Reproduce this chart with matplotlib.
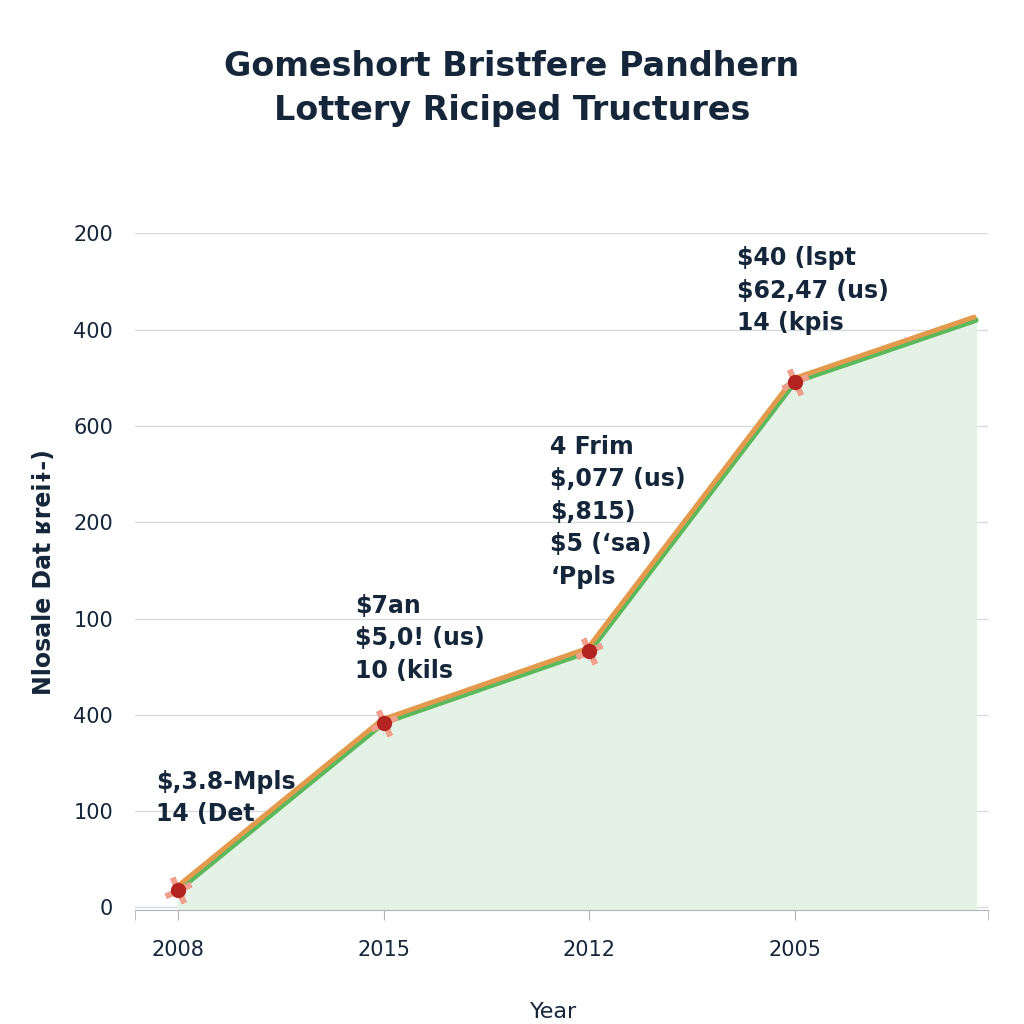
import matplotlib.pyplot as plt
import matplotlib.transforms as mtransforms

# x positions are just category slots, labels are as printed on the chart
years = ['2008', '2015', '2012', '2005']
x_pos = [0, 1, 2, 3]
# line values in grid-slot units (gridlines are evenly spaced, labels are not)
values = [0.18, 1.92, 2.66, 5.46]
end_x = 3.88
end_value = 6.10
ytick_labels = ['0', '100', '400', '100', '200', '600', '400', '200']

notes = [
    "$,3.8-Mpls\n14 (Det",
    "$7an\n$5,0! (us)\n10 (kils",
    "4 Frim\n$,077 (us)\n$,815)\n$5 (\u2018sa)\n\u2018Ppls",
    "$40 (lspt\n$62,47 (us)\n14 (kpis",
]
# where each note sits (x slot, top y slot)
note_pos = [(-0.11, 1.43), (0.86, 3.26), (1.81, 4.91), (2.72, 6.87)]

dark = '#16263a'
green = '#5cb85c'
orange = '#e39a4c'
fill = '#e4f1e5'

fig = plt.figure(figsize=(10.24, 10.24), dpi=100)
ax = fig.add_axes([0.132, 0.111, 0.833, 0.661])

xs = x_pos + [end_x]
ys = values + [end_value]

ax.fill_between(xs, ys, -0.03, color=fill, zorder=1)
ax.plot(xs, ys, color=green, lw=4, zorder=3, solid_capstyle='round')
shift = mtransforms.offset_copy(ax.transData, fig=fig, x=-1.2, y=2.2, units='points')
ax.plot(xs, ys, color=orange, lw=3.5, zorder=4, transform=shift, solid_capstyle='round')

ax.plot(x_pos, values, ls='none', marker=(4, 2, 25), ms=20, mew=4,
        color='#f0a08c', zorder=5)
ax.plot(x_pos, values, ls='none', marker='o', ms=10, color='#b3231f', zorder=6)

for (nx, ny), txt in zip(note_pos, notes):
    ax.text(nx, ny, txt, fontsize=17, color=dark, ha='left', va='top',
            linespacing=1.45, fontweight='semibold', zorder=7)

ax.set_xlim(-0.21, 3.94)
ax.set_ylim(-0.03, 7.0)
ax.set_xticks(x_pos)
ax.set_xticklabels(years, fontsize=15, color=dark)
ax.set_xticks([-0.21, 3.94], minor=True)
ax.tick_params(axis='x', which='both', length=7, color='#b0b4b8', pad=14)
ax.set_yticks(range(8))
ax.set_yticklabels(ytick_labels, fontsize=15, color=dark)
ax.tick_params(axis='y', length=0, pad=16)
ax.grid(axis='y', color='#d8dbde', lw=1)
ax.set_axisbelow(True)
for s in ['top', 'right', 'left']:
    ax.spines[s].set_visible(False)
ax.spines['bottom'].set_color('#b0b4b8')

ax.set_xlabel('Year', fontsize=16, color=dark, labelpad=40)
ax.xaxis.set_label_coords(0.49, -0.135)
ax.set_ylabel('Nlosale Dat \u0281rei\u0268-)', fontsize=17, fontweight='bold',
              color=dark)
ax.yaxis.set_label_coords(-0.093, 0.5)

fig.text(0.5, 0.935, 'Gomeshort Bristfere Pandhern', ha='center', va='center',
         fontsize=24, fontweight='bold', color=dark)
fig.text(0.5, 0.892, 'Lottery Riciped Tructures', ha='center', va='center',
         fontsize=24, fontweight='bold', color=dark)

fig.savefig('out.png', dpi=100, facecolor='white')
